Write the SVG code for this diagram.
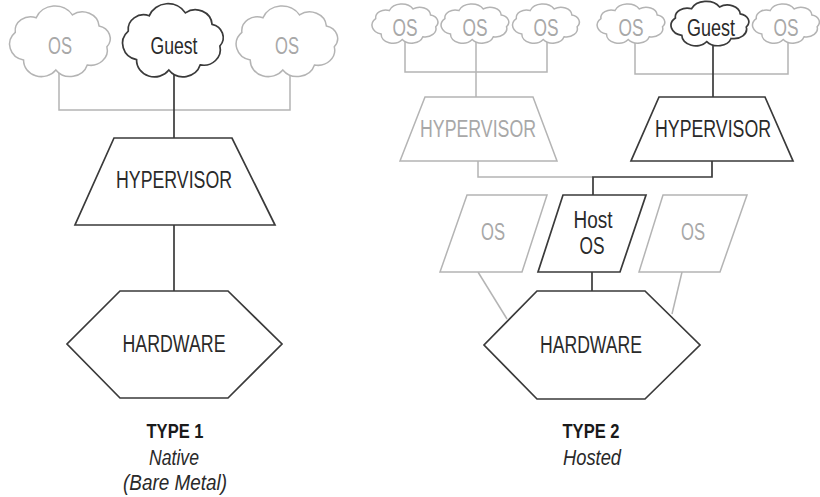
<svg xmlns="http://www.w3.org/2000/svg" xmlns:xlink="http://www.w3.org/1999/xlink" width="820" height="497" viewBox="0 0 820 497">
<style>
  .dk { fill: #ffffff; stroke: #3a3a3a; stroke-width: 1.7; stroke-linejoin: miter; }
  .lt { fill: #ffffff; stroke: #b4b4b4; stroke-width: 1.5; stroke-linejoin: miter; }
  .cdk { fill: none; stroke: #3a3a3a; stroke-width: 1.7; }
  .clt { fill: none; stroke: #b4b4b4; stroke-width: 1.5; }
  text { font-family: "Liberation Sans Narrow", "Liberation Sans", Arial, sans-serif; text-anchor: middle; }
  .t { font-size: 23px; fill: #2a2a2a; }
  .tl { font-size: 23px; fill: #a8a8a8; }
  .cap { font-size: 21px; font-weight: bold; fill: #1a1a1a; }
  .sub { font-size: 22px; font-style: italic; fill: #2a2a2a; }
</style>
<defs>
  <path id="cloud" vector-effect="non-scaling-stroke" d="M -37.6,-8.9 A 13 13 0 0 1 -20,-22.5 A 17 17 0 0 1 10.4,-25.1 A 14 14 0 0 1 32.8,-14.9 A 12 12 0 0 1 39.4,4.5 A 14 14 0 0 1 22.9,21.3 A 15 15 0 0 1 -3.5,25.9 A 15 15 0 0 1 -30.6,16.7 A 15 15 0 0 1 -37.6,-8.9 Z"/>
</defs>

<g id="connectors">
  <!-- Type 1 -->
  <polyline class="clt" points="59,45 59,110 290,110 290,45"/>
  <line class="cdk" x1="174" y1="45" x2="174" y2="138"/>
  <line class="cdk" x1="174" y1="225" x2="174" y2="291"/>
  <!-- Type 2 top-left group -->
  <polyline class="clt" points="405,25 405,72 547,72 547,25"/>
  <line class="clt" x1="476" y1="25" x2="476" y2="97"/>
  <!-- Type 2 top-right group -->
  <polyline class="clt" points="635,25 635,74 788,74 788,25"/>
  <line class="cdk" x1="713" y1="25" x2="713" y2="97"/>
  <!-- Hypervisors to host -->
  <polyline class="clt" points="478,161 478,177 593,177"/>
  <polyline class="cdk" points="712,161 712,177 593,177 593,195"/>
  <!-- OS to hardware -->
  <line class="cdk" x1="592" y1="272" x2="592" y2="291"/>
  <line class="clt" x1="478" y1="272" x2="507" y2="319"/>
  <line class="clt" x1="682" y1="272" x2="672" y2="314"/>
</g>

<!-- TYPE 1 -->
<g id="t1-os-left">
  <use xlink:href="#cloud" class="lt" transform="translate(60,42) scale(1.19,1.08)"/>
  <text class="tl" x="60" y="54" textLength="24" lengthAdjust="spacingAndGlyphs">OS</text>
</g>
<g id="t1-guest">
  <use xlink:href="#cloud" class="dk" transform="translate(173,41) scale(1.19,1.12)"/>
  <text class="t" x="174" y="54" textLength="47" lengthAdjust="spacingAndGlyphs">Guest</text>
</g>
<g id="t1-os-right">
  <use xlink:href="#cloud" class="lt" transform="translate(287,42) scale(1.2,1.08)"/>
  <text class="tl" x="287" y="54" textLength="24" lengthAdjust="spacingAndGlyphs">OS</text>
</g>
<g id="t1-hypervisor">
  <polygon class="dk" points="114,138 232,138 275,225 75,225"/>
  <text class="t" x="174" y="188" textLength="116" lengthAdjust="spacingAndGlyphs">HYPERVISOR</text>
</g>
<g id="t1-hardware">
  <polygon class="dk" points="120,291 228,291 282,344 228,398 120,398 67,344"/>
  <text class="t" x="174" y="352" textLength="103" lengthAdjust="spacingAndGlyphs">HARDWARE</text>
</g>
<g id="t1-label">
  <text class="cap" x="175" y="438" textLength="57" lengthAdjust="spacingAndGlyphs">TYPE 1</text>
  <text class="sub" x="174" y="465" textLength="50" lengthAdjust="spacingAndGlyphs">Native</text>
  <text class="sub" x="175" y="490" textLength="104" lengthAdjust="spacingAndGlyphs">(Bare Metal)</text>
</g>

<!-- TYPE 2 -->
<g id="t2-os-1">
  <use xlink:href="#cloud" class="lt" transform="translate(405,24) scale(0.78,0.6)"/>
  <text class="tl" x="405" y="36" textLength="25" lengthAdjust="spacingAndGlyphs">OS</text>
</g>
<g id="t2-os-2">
  <use xlink:href="#cloud" class="lt" transform="translate(475,24) scale(0.8,0.6)"/>
  <text class="tl" x="475" y="36" textLength="25" lengthAdjust="spacingAndGlyphs">OS</text>
</g>
<g id="t2-os-3">
  <use xlink:href="#cloud" class="lt" transform="translate(546,24) scale(0.79,0.6)"/>
  <text class="tl" x="546" y="36" textLength="25" lengthAdjust="spacingAndGlyphs">OS</text>
</g>
<g id="t2-os-4">
  <use xlink:href="#cloud" class="lt" transform="translate(631,24) scale(0.8,0.6)"/>
  <text class="tl" x="631" y="36" textLength="25" lengthAdjust="spacingAndGlyphs">OS</text>
</g>
<g id="t2-guest">
  <use xlink:href="#cloud" class="dk" transform="translate(710,24) scale(0.92,0.68)"/>
  <text class="t" x="711" y="36" textLength="48" lengthAdjust="spacingAndGlyphs">Guest</text>
</g>
<g id="t2-os-5">
  <use xlink:href="#cloud" class="lt" transform="translate(786,24) scale(0.79,0.6)"/>
  <text class="tl" x="786" y="36" textLength="25" lengthAdjust="spacingAndGlyphs">OS</text>
</g>
<g id="t2-hypervisor-left">
  <polygon class="lt" points="425,97 533,97 557,161 400,161"/>
  <text class="tl" x="478" y="137" textLength="116" lengthAdjust="spacingAndGlyphs">HYPERVISOR</text>
</g>
<g id="t2-hypervisor-right">
  <polygon class="dk" points="659,97 765,97 793,161 631,161"/>
  <text class="t" x="713" y="137" textLength="116" lengthAdjust="spacingAndGlyphs">HYPERVISOR</text>
</g>
<g id="t2-os-par-left">
  <polygon class="lt" points="467,195 547,195 522,272 440,272"/>
  <text class="tl" x="493" y="240" textLength="24" lengthAdjust="spacingAndGlyphs">OS</text>
</g>
<g id="t2-host-os">
  <polygon class="dk" points="563,195 646,195 620,272 538,272"/>
  <text class="t" x="593" y="228" textLength="39" lengthAdjust="spacingAndGlyphs">Host</text>
  <text class="t" x="592" y="254" textLength="25" lengthAdjust="spacingAndGlyphs">OS</text>
</g>
<g id="t2-os-par-right">
  <polygon class="lt" points="663,195 747,195 720,272 639,272"/>
  <text class="tl" x="693" y="240" textLength="24" lengthAdjust="spacingAndGlyphs">OS</text>
</g>
<g id="t2-hardware">
  <polygon class="dk" points="537,291 645,291 700,345 645,399 537,399 484,345"/>
  <text class="t" x="591" y="353" textLength="102" lengthAdjust="spacingAndGlyphs">HARDWARE</text>
</g>
<g id="t2-label">
  <text class="cap" x="591" y="438" textLength="57" lengthAdjust="spacingAndGlyphs">TYPE 2</text>
  <text class="sub" x="592" y="465" textLength="58" lengthAdjust="spacingAndGlyphs">Hosted</text>
</g>
</svg>
